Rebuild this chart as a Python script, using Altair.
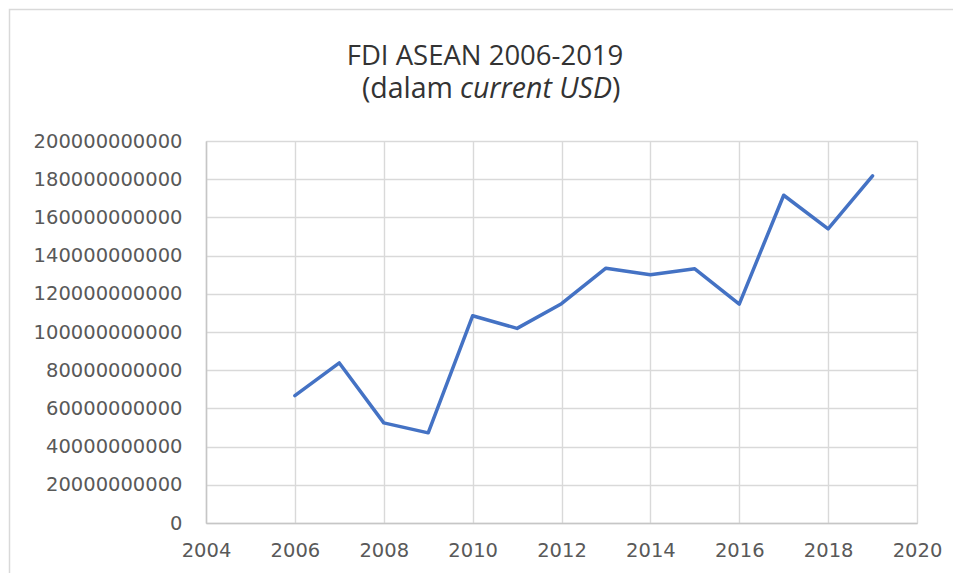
import altair as alt
import pandas as pd

years = [2006, 2007, 2008, 2009, 2010, 2011, 2012, 2013, 2014, 2015, 2016, 2017, 2018, 2019]
fdi_billion = [66.7, 83.8, 52.4, 47.2, 108.5, 101.9, 114.8, 133.4, 130.0, 133.1, 114.6, 171.6, 154.0, 181.8]
x_ticks = [2004, 2006, 2008, 2010, 2012, 2014, 2016, 2018, 2020]
y_ticks = [0, 20e9, 40e9, 60e9, 80e9, 100e9, 120e9, 140e9, 160e9, 180e9, 200e9]

title_line1 = "FDI ASEAN 2006-2019"
title_line2_a = "(dalam"
title_line2_b = "current USD"
title_line2_c = ")"

df = pd.DataFrame({"year": years, "fdi": [v * 1e9 for v in fdi_billion]})
one = pd.DataFrame({"k": [0]})

FONT = "Open Sans"
LABEL_FONT = "DejaVu Sans"

line = alt.Chart(df).mark_line(
    color="#4472C4", strokeWidth=3.5, strokeCap="round", strokeJoin="round"
).encode(
    x=alt.X("year:Q",
            scale=alt.Scale(domain=[2004, 2020], nice=False, zero=False),
            axis=alt.Axis(values=x_ticks, format="d", title=None,
                          grid=True, gridColor="#d9d9d9", gridWidth=1.4,
                          domainColor="#c6c6c6", domainWidth=1.5,
                          ticks=False, labelPadding=18,
                          labelFont=LABEL_FONT, labelFontSize=19.5,
                          labelColor="#595959", labelFlush=False)),
    y=alt.Y("fdi:Q",
            scale=alt.Scale(domain=[0, 200e9], nice=False),
            axis=alt.Axis(values=y_ticks, format="d", title=None,
                          grid=True, gridColor="#d9d9d9", gridWidth=1.4,
                          domainColor="#c6c6c6", domainWidth=1.5,
                          ticks=False, labelPadding=24,
                          labelFont=LABEL_FONT, labelFontSize=19.5,
                          labelColor="#595959")),
)

frame = alt.Chart(one).mark_rect(
    fill=None, stroke="#d9d9d9", strokeWidth=1.5
).encode(
    x=alt.value(-196.5), x2=alt.value(1000),
    y=alt.value(-131.5), y2=alt.value(700),
)

t1 = alt.Chart(one).mark_text(
    text=title_line1, font=FONT, fontSize=27.5, color="#333333",
    align="center", baseline="alphabetic"
).encode(x=alt.value(279), y=alt.value(-76))

t2a = alt.Chart(one).mark_text(
    text=title_line2_a, font=FONT, fontSize=28.5, color="#333333",
    align="right", baseline="alphabetic"
).encode(x=alt.value(247), y=alt.value(-43))

t2b = alt.Chart(one).mark_text(
    text=title_line2_b, font=FONT, fontSize=28.5, fontStyle="italic", color="#333333",
    align="left", baseline="alphabetic"
).encode(x=alt.value(254), y=alt.value(-43))

t2c = alt.Chart(one).mark_text(
    text=title_line2_c, font=FONT, fontSize=28.5, color="#333333",
    align="left", baseline="alphabetic"
).encode(x=alt.value(406), y=alt.value(-43))

chart = alt.layer(frame, line, t1, t2a, t2b, t2c).properties(
    width=711, height=382,
    autosize=alt.AutoSizeParams(type="none"),
    padding={"left": 198, "top": 133, "right": 36, "bottom": 50},
).configure_view(stroke=None).configure(background="white")

chart.save("out.html", embed_options={"renderer": "svg", "actions": False})
